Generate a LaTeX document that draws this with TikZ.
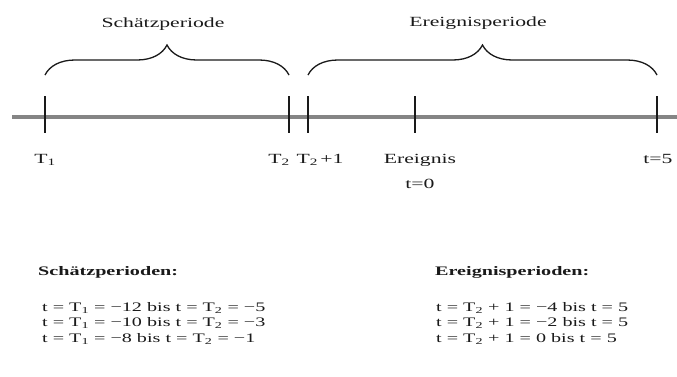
\documentclass[tikz,border=0pt]{standalone}
\usepackage{fontspec}
\setmainfont{Liberation Serif}[FakeStretch=1.55]
\usetikzlibrary{decorations.pathreplacing}

\begin{document}
\begin{tikzpicture}[x=1pt,y=-1pt]

% colors
\definecolor{axisGray}{HTML}{858585}
\definecolor{textBlack}{HTML}{1A1A1A}

% sizes
\def\axisHeight{117}
\def\tickTop{96}
\def\tickBottom{133}
\def\braceHeight{75}
\def\labelFont{\fontsize{14}{16}\selectfont}
\def\listFont{\fontsize{13}{15.5}\selectfont}

\useasboundingbox (0,0) rectangle (677,376);

% time axis
\coordinate (axisStart) at (12,\axisHeight);
\coordinate (axisEnd) at (677,\axisHeight);
\draw[axisGray, line width=3.5pt] (axisStart) -- (axisEnd);

% ticks on the time axis
\foreach \tickName/\tickX in {tOne/45, tTwo/289, tTwoPlusOne/308, tEvent/415, tFive/657} {
    \coordinate (\tickName) at (\tickX,\axisHeight);
    \draw[textBlack, line width=1.3pt] (\tickX,\tickTop) -- (\tickX,\tickBottom);
}

% braces over the two periods
\coordinate (estimationStart) at (45,\braceHeight);
\coordinate (estimationEnd) at (289,\braceHeight);
\coordinate (eventStart) at (308,\braceHeight);
\coordinate (eventEnd) at (657,\braceHeight);
\draw[textBlack, line width=1.3pt, decorate, decoration={brace, amplitude=30pt}] (estimationStart) -- (estimationEnd);
\draw[textBlack, line width=1.3pt, decorate, decoration={brace, amplitude=30pt}] (eventStart) -- (eventEnd);

% period labels
\node[text=textBlack, font=\labelFont, anchor=base] (estimationLabel) at (163,27) {Schätzperiode};
\node[text=textBlack, font=\labelFont, anchor=base] (eventLabel) at (478,26) {Ereignisperiode};

% tick labels
\node[text=textBlack, font=\labelFont, anchor=base] (tOneLabel) at (45,163) {T\textsubscript{1}};
\node[text=textBlack, font=\labelFont, anchor=base] (tTwoLabel) at (279,163) {T\textsubscript{2}};
\node[text=textBlack, font=\labelFont, anchor=base] (tTwoPlusOneLabel) at (320,163) {T\textsubscript{2}\,+1};
\node[text=textBlack, font=\labelFont, anchor=base] (tEventLabel) at (420,163) {Ereignis};
\node[text=textBlack, font=\labelFont, anchor=base] (tZeroLabel) at (420,188) {t=0};
\node[text=textBlack, font=\labelFont, anchor=base] (tFiveLabel) at (658,163) {t=5};

% lists of periods
\node[text=textBlack, font=\listFont\bfseries, anchor=base west, inner sep=0pt] (estimationHead) at (38,275) {Schätzperioden:};
\node[text=textBlack, font=\listFont, anchor=north west, inner sep=0pt, align=left] (estimationList) at (42,302) {%
    t = T\textsubscript{1} = −12 bis t = T\textsubscript{2} = −5\\
    t = T\textsubscript{1} = −10 bis t = T\textsubscript{2} = −3\\
    t = T\textsubscript{1} = −8 bis t = T\textsubscript{2} = −1};
\node[text=textBlack, font=\listFont\bfseries, anchor=base west, inner sep=0pt] (eventHead) at (435,275) {Ereignisperioden:};
\node[text=textBlack, font=\listFont, anchor=north west, inner sep=0pt, align=left] (eventList) at (436,302) {%
    t = T\textsubscript{2} + 1 = −4 bis t = 5\\
    t = T\textsubscript{2} + 1 = −2 bis t = 5\\
    t = T\textsubscript{2} + 1 = 0 bis t = 5};

\end{tikzpicture}
\end{document}
